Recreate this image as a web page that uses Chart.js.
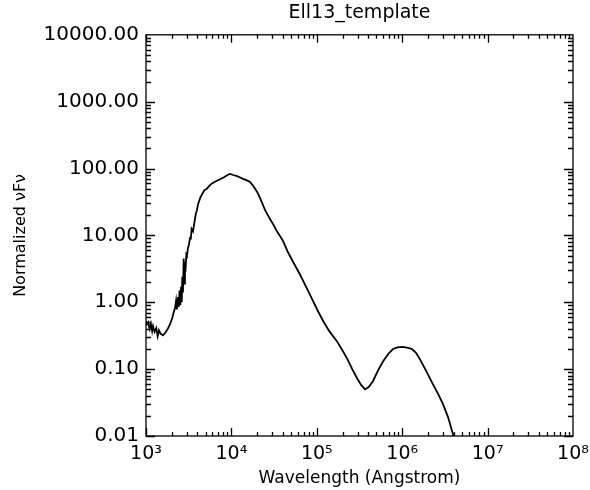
<!DOCTYPE html>
<html>
<head>
<meta charset="utf-8">
<script src="https://cdn.jsdelivr.net/npm/chart.js@4"></script>
<style>
  html, body { margin: 0; padding: 0; background: #fff; }
  #wrap { width: 590px; height: 490px; }
</style>
</head>
<body>
<div id="wrap"><canvas id="sed"></canvas></div>
<script>
// --- datos ---
const TITLE = 'Ell13_template';
const X_LABEL = 'Wavelength (Angstrom)';
const Y_LABEL = 'Normalized \u03bdF\u03bd';

const wavelength = [1000, 1030, 1060, 1100, 1140, 1180, 1210, 1260, 1320, 1370, 1420, 1480, 1580, 1680, 1800, 1910,
    2030, 2120, 2190, 2250, 2300, 2370, 2420, 2470, 2520, 2570, 2620, 2660, 2710, 2760, 2800, 2860, 2920, 2970,
    3020, 3100, 3180, 3270, 3350, 3420, 3550, 3700, 3830, 3955, 4064, 4300, 4529, 4800, 5180, 5500, 5928, 6500,
    7351, 8200, 9000, 9634, 10500, 11640, 12500, 13680, 15000, 16520, 18000, 19950, 21500, 22820, 24740, 28000,
    31000, 34170, 40180, 46000, 54000, 63560, 75000, 90220, 103000, 118200, 140000, 172600, 200000, 226000,
    260000, 295900, 330000, 366700, 405000, 454700, 520000, 595600, 690000, 780300, 880000, 995000, 1140000,
    1303000, 1450000, 1617000, 1900000, 2294000, 2650000, 3005000, 3450000, 3937000, 4100000];

const nuFnu = [0.52, 0.47, 0.50, 0.40, 0.48, 0.37, 0.44, 0.36, 0.41, 0.31, 0.38, 0.34, 0.32, 0.35, 0.40, 0.47,
    0.58, 0.72, 0.82, 1.05, 0.78, 1.2, 0.85, 1.5, 0.9, 1.7, 1.0, 2.4, 1.4, 4.5, 1.9, 4.0, 3.5, 5.2,
    5.0, 6.5, 7.2, 9.1, 9.0, 12.5, 11.5, 16, 21, 24, 29, 36, 41, 47, 50, 55, 60, 64,
    69, 74, 80, 83, 80, 77, 74, 70, 67, 63, 55, 45, 37, 31, 24, 18,
    14.5, 11.5, 8.3, 5.6, 3.8, 2.6, 1.7, 1.05, 0.74, 0.53, 0.37, 0.26, 0.19, 0.145,
    0.10, 0.073, 0.058, 0.050, 0.054, 0.066, 0.095, 0.13, 0.17, 0.20, 0.212, 0.215, 0.21,
    0.20, 0.175, 0.14, 0.095, 0.059, 0.042, 0.030, 0.019, 0.0105, 0.0085];

const xDecades = [1e3, 1e4, 1e5, 1e6, 1e7, 1e8];
const yDecades = [0.01, 0.1, 1, 10, 100, 1000, 10000];

const SUP = { 3: '\u00b3', 4: '\u2074', 5: '\u2075', 6: '\u2076', 7: '\u2077', 8: '\u2078' };
const FONT = "'DejaVu Sans', sans-serif";

// marco y marcas hacia dentro, estilo IDL
const frameTicks = {
    id: 'frameTicks',
    afterDatasetsDraw(chart) {
        const { ctx, chartArea: a, scales: { x, y } } = chart;
        ctx.save();
        ctx.strokeStyle = '#000';
        ctx.lineWidth = 1.3;
        ctx.strokeRect(a.left, a.top, a.right - a.left, a.bottom - a.top);
        ctx.beginPath();
        for (let i = 0; i < xDecades.length - 1; i++) {
            for (let m = 1; m < 10; m++) {
                const px = Math.round(x.getPixelForValue(m * xDecades[i])) + 0.5;
                const len = m === 1 ? 8 : 4;
                ctx.moveTo(px, a.bottom); ctx.lineTo(px, a.bottom - len);
                ctx.moveTo(px, a.top); ctx.lineTo(px, a.top + len);
            }
        }
        for (let i = 0; i < yDecades.length - 1; i++) {
            for (let m = 1; m < 10; m++) {
                const py = Math.round(y.getPixelForValue(m * yDecades[i])) + 0.5;
                const len = m === 1 ? 9 : 5;
                ctx.moveTo(a.left, py); ctx.lineTo(a.left + len, py);
                ctx.moveTo(a.right, py); ctx.lineTo(a.right - len, py);
            }
        }
        ctx.stroke();
        ctx.restore();
    }
};

new Chart(document.getElementById('sed'), {
    type: 'scatter',
    data: {
        datasets: [{
            data: wavelength.map((w, i) => ({ x: w, y: nuFnu[i] })),
            showLine: true,
            borderColor: '#000',
            borderWidth: 1.8,
            pointRadius: 0,
            tension: 0
        }]
    },
    plugins: [frameTicks],
    options: {
        responsive: true,
        maintainAspectRatio: false,
        animation: false,
        layout: { padding: { left: 0, right: 17, top: 0, bottom: 0 } },
        plugins: {
            legend: { display: false },
            tooltip: { enabled: false },
            title: {
                display: true,
                text: TITLE,
                fullSize: false,
                color: '#000',
                font: { family: FONT, size: 19, weight: 'normal' },
                padding: { top: 2, bottom: 10 }
            }
        },
        scales: {
            x: {
                type: 'logarithmic',
                min: 1e3,
                max: 1e8,
                grid: { display: false, drawTicks: false },
                border: { display: false },
                afterBuildTicks: s => { s.ticks = xDecades.map(v => ({ value: v })); },
                afterFit: s => { s.height = 54; s.paddingLeft = 0; s.paddingRight = 0; },
                ticks: {
                    color: '#000',
                    padding: 7,
                    maxRotation: 0,
                    autoSkip: false,
                    font: { family: FONT, size: 19 },
                    callback: v => '10' + SUP[Math.round(Math.log10(v))]
                },
                title: {
                    display: true,
                    text: X_LABEL,
                    color: '#000',
                    font: { family: FONT, size: 17 },
                    padding: { top: 1, bottom: 1 }
                }
            },
            y: {
                type: 'logarithmic',
                min: 0.01,
                max: 10000,
                grid: { display: false, drawTicks: false },
                border: { display: false },
                afterBuildTicks: s => { s.ticks = yDecades.map(v => ({ value: v })); },
                afterFit: s => { s.width = 146; },
                ticks: {
                    color: '#000',
                    padding: 7,
                    autoSkip: false,
                    font: { family: FONT, size: 20 },
                    callback: v => Number(v).toFixed(2)
                },
                title: {
                    display: true,
                    text: Y_LABEL,
                    color: '#000',
                    font: { family: FONT, size: 16 },
                    padding: { top: 11, bottom: 0 }
                }
            }
        }
    }
});
</script>
</body>
</html>
